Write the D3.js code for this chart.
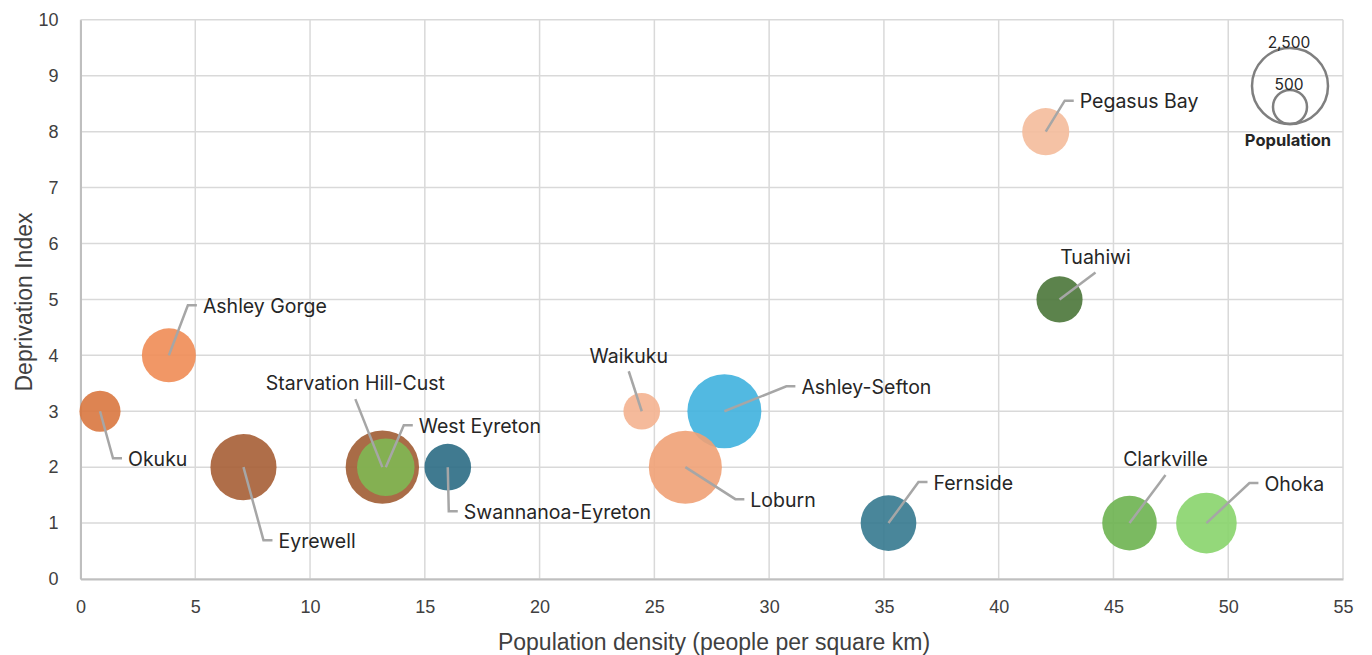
<!DOCTYPE html>
<html>
<head>
<meta charset="utf-8">
<script src="https://cdn.jsdelivr.net/npm/d3@7"></script>
<style>
  html, body { margin: 0; padding: 0; background: #ffffff; }
  svg { display: block; }
</style>
</head>
<body>
<svg id="chart" width="1372" height="655"></svg>
<script>
// ---- Data ----
const names = ["Okuku", "Ashley Gorge", "Eyrewell", "Starvation Hill-Cust", "West Eyreton",
  "Swannanoa-Eyreton", "Waikuku", "Ashley-Sefton", "Loburn", "Fernside",
  "Clarkville", "Ohoka", "Pegasus Bay", "Tuahiwi"];
const density = [0.85, 3.85, 7.1, 13.15, 13.3, 16.0, 24.45, 28.05, 26.35, 35.2, 45.7, 49.05, 42.05, 42.65];
const deprivation = [3, 4, 2, 2, 2, 2, 3, 3, 2, 1, 1, 1, 8, 5];
const population = [730, 1260, 1890, 2330, 1430, 940, 580, 2370, 2310, 1340, 1290, 1590, 960, 920];
const xTicks = [0, 5, 10, 15, 20, 25, 30, 35, 40, 45, 50, 55];
const yTicks = [0, 1, 2, 3, 4, 5, 6, 7, 8, 9, 10];
const legendValues = [2500, 500];

// ---- Styling / layout (not data) ----
const colors = ["#d9773f", "#f08c55", "#a65e35", "#a05c33", "#7fb853",
  "#2b6c84", "#f4b390", "#3fb1de", "#f0a175", "#35798f",
  "#6db350", "#88d46c", "#f4bb9b", "#4a7538"];
// leader-line end offsets from bubble centre (px) and label style
const labelDx = [13, 19, 20, -27, 18, 1, -13, 62, 50, 30, 36, 43, 19, 36];
const labelDy = [47, -50, 73, -68, -42, 44, -40, -25, 32, -41, -48, -40, -31, -27];
const labelMode = ["right", "right", "right", "above", "right", "right", "above", "right", "right", "right", "above", "right", "right", "above"];
const drawOrder = [0, 1, 2, 3, 4, 5, 6, 7, 8, 9, 10, 11, 12, 13];

const svg = d3.select("#chart");
const x = d3.scaleLinear().domain([0, 55]).range([80.5, 1343]);
const y = d3.scaleLinear().domain([0, 10]).range([579, 19.8]);
const r = d3.scaleSqrt().domain([0, 2500]).range([0, 38]);

const labelFont = "Inter, 'Open Sans', sans-serif";
const axisFont = "'Liberation Sans', Arial, sans-serif";

// gridlines
const grid = svg.append("g");
grid.selectAll("line.v").data(xTicks).join("line")
  .attr("x1", d => x(d)).attr("x2", d => x(d))
  .attr("y1", y(10)).attr("y2", y(0))
  .attr("stroke", "#d9d9d9").attr("stroke-width", 1.5);
grid.selectAll("line.h").data(yTicks).join("line")
  .attr("x1", x(0)).attr("x2", x(55))
  .attr("y1", d => y(d)).attr("y2", d => y(d))
  .attr("stroke", "#d9d9d9").attr("stroke-width", 1.5);

// axes
const xAxis = svg.append("g").attr("transform", `translate(0,${y(0)})`)
  .call(d3.axisBottom(x).tickValues(xTicks).tickSize(0).tickPadding(21));
const yAxis = svg.append("g").attr("transform", `translate(${x(0)},0)`)
  .call(d3.axisLeft(y).tickValues(yTicks).tickSize(0).tickPadding(22));
[xAxis, yAxis].forEach(a => {
  a.select(".domain").attr("stroke", "#bfbfbf").attr("stroke-width", 2);
  a.selectAll("text").attr("font-family", axisFont).attr("font-size", 18).attr("fill", "#404040");
});

// axis titles
svg.append("text").attr("x", 714).attr("y", 650).attr("text-anchor", "middle")
  .attr("font-family", axisFont).attr("font-size", 23).attr("fill", "#404040")
  .text("Population density (people per square km)");
svg.append("text").attr("transform", `translate(31.5,302) rotate(-90)`).attr("text-anchor", "middle")
  .attr("font-family", axisFont).attr("font-size", 23).attr("fill", "#404040")
  .text("Deprivation Index");

// bubbles
const idx = drawOrder;
svg.append("g").selectAll("circle").data(idx).join("circle")
  .attr("cx", i => x(density[i])).attr("cy", i => y(deprivation[i]))
  .attr("r", i => r(population[i]))
  .attr("fill", i => colors[i]).attr("fill-opacity", 0.9);

// leader lines + labels
const lab = svg.append("g");
idx.forEach(i => {
  const cx = x(density[i]), cy = y(deprivation[i]);
  const ex = cx + labelDx[i], ey = cy + labelDy[i];
  if (labelMode[i] === "right") {
    lab.append("path")
      .attr("d", `M${cx},${cy}L${ex},${ey}L${ex + 9},${ey}`)
      .attr("fill", "none").attr("stroke", "#a6a6a6").attr("stroke-width", 2.5);
    lab.append("text").attr("x", ex + 15).attr("y", ey + 2.5)
      .attr("dominant-baseline", "middle")
      .attr("font-family", labelFont).attr("font-size", 19.5).attr("fill", "#262626")
      .text(names[i]);
  } else {
    lab.append("path")
      .attr("d", `M${cx},${cy}L${ex},${ey}`)
      .attr("fill", "none").attr("stroke", "#a6a6a6").attr("stroke-width", 2.5);
    lab.append("text").attr("x", ex).attr("y", ey - 14)
      .attr("text-anchor", "middle").attr("dominant-baseline", "middle")
      .attr("font-family", labelFont).attr("font-size", 19.5).attr("fill", "#262626")
      .text(names[i]);
  }
});

// size legend
const lg = svg.append("g");
const lgBottom = 124, lgX = 1290;
legendValues.forEach(v => {
  const rr = r(v);
  lg.append("circle").attr("cx", lgX).attr("cy", lgBottom - rr).attr("r", rr)
    .attr("fill", "none").attr("stroke", "#7f7f7f").attr("stroke-width", 2.5);
  lg.append("text").attr("x", lgX - 1).attr("y", lgBottom - 2 * rr)
    .attr("text-anchor", "middle").attr("font-family", labelFont).attr("font-size", 15.5)
    .attr("fill", "#262626").text(d3.format(",")(v));
});
lg.append("text").attr("x", lgX - 2).attr("y", 146).attr("text-anchor", "middle")
  .attr("font-family", labelFont).attr("font-size", 16.5).attr("font-weight", "bold")
  .attr("fill", "#262626").text("Population");
</script>
</body>
</html>
